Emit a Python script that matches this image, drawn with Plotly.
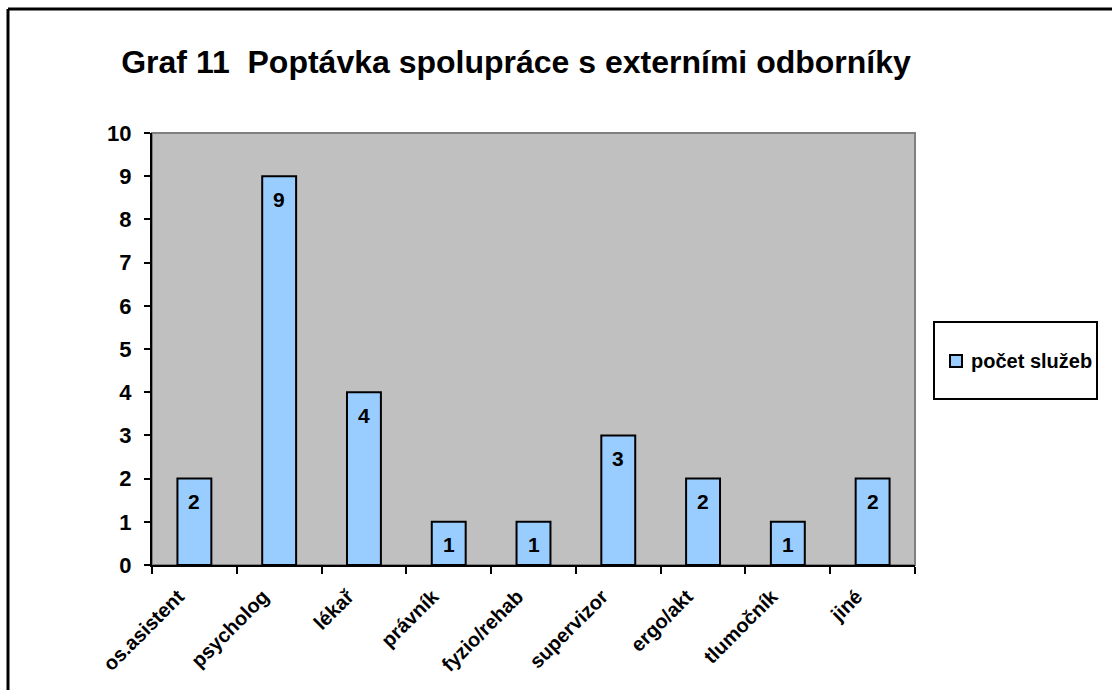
import plotly.graph_objects as go

categories = ["os.asistent", "psycholog", "lékař", "právník", "fyzio/rehab",
              "supervizor", "ergo/akt", "tlumočník", "jiné"]
pocet_sluzeb = [2, 9, 4, 1, 1, 3, 2, 1, 2]
series_name = "počet služeb"
y_ticks = list(range(0, 11))

FONT = "Arial, Liberation Sans, sans-serif"
BAR_FILL = "#99CCFF"
PLOT_BG = "#C0C0C0"

# plot area in pixels
L, R, T, B = 152, 915, 133, 565
W, H = R - L, B - T


def px(x):
    return (x - L) / W


def py(y):
    return (B - y) / H


fig = go.Figure()
fig.add_trace(go.Bar(
    x=categories,
    y=pocet_sluzeb,
    name=series_name,
    width=0.4,
    marker=dict(color=BAR_FILL, line=dict(color="black", width=2)),
))

# value labels just below the top of each bar
for cat, val in zip(categories, pocet_sluzeb):
    fig.add_annotation(
        x=cat, y=val, text=f"<b>{val}</b>", showarrow=False,
        yanchor="middle", yshift=-23,
        font=dict(family=FONT, size=21, color="black"),
    )

# legend entry drawn by hand inside its box
fig.add_annotation(
    xref="paper", yref="paper", x=px(969), y=py(361),
    xanchor="left", yanchor="middle", showarrow=False,
    text=f"<b>{series_name}</b>",
    font=dict(family=FONT, size=20, color="black"),
)

fig.update_layout(
    width=1112, height=690,
    margin=dict(l=L, r=1112 - R, t=T, b=690 - B, pad=0),
    paper_bgcolor="white",
    plot_bgcolor=PLOT_BG,
    showlegend=False,
    title=dict(
        text="<b>Graf 11\u00a0\u00a0Poptávka spolupráce s externími odborníky</b>",
        x=516 / 1112, xanchor="center",
        y=1 - 62 / 690, yanchor="middle",
        font=dict(family=FONT, size=32, color="black"),
    ),
    xaxis=dict(
        type="category",
        showline=True, linecolor="black", linewidth=2,
        ticks="outside", ticklen=7, tickwidth=2, tickcolor="black",
        tickson="boundaries",
        tickangle=-45,
        ticklabelstandoff=10, ticklabelshift=-16,
        tickfont=dict(family=FONT, size=20, color="black", weight="bold"),
        showgrid=False, zeroline=False,
    ),
    yaxis=dict(
        range=[0, 10],
        tickvals=y_ticks,
        showline=True, linecolor="black", linewidth=2,
        ticks="outside", ticklen=6, tickwidth=2, tickcolor="black",
        ticklabelstandoff=8,
        tickfont=dict(family=FONT, size=22, color="black", weight="bold"),
        showgrid=False, zeroline=False,
    ),
    shapes=[
        # grey frame around the plotting area
        dict(type="rect", xref="paper", yref="paper", x0=0, x1=1, y0=0, y1=1,
             line=dict(color="#808080", width=2), layer="below"),
        # legend box
        dict(type="rect", xref="paper", yref="paper",
             x0=px(934), x1=px(1097), y0=py(399), y1=py(322),
             line=dict(color="black", width=2), fillcolor="white", layer="below"),
        # legend swatch
        dict(type="rect", xref="paper", yref="paper",
             x0=px(950), x1=px(962), y0=py(367), y1=py(355),
             line=dict(color="black", width=2), fillcolor=BAR_FILL),
        # outer chart border (top and left edges)
        dict(type="line", xref="paper", yref="paper",
             x0=px(8), x1=px(1120), y0=py(9), y1=py(9),
             line=dict(color="black", width=3)),
        dict(type="line", xref="paper", yref="paper",
             x0=px(8), x1=px(8), y0=py(9), y1=py(700),
             line=dict(color="black", width=3)),
    ],
)

fig.write_html("out.html")
